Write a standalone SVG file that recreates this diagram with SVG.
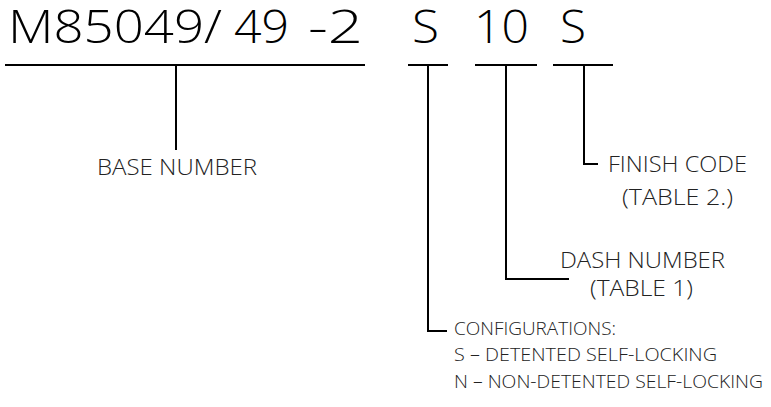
<svg xmlns="http://www.w3.org/2000/svg" width="771" height="407" viewBox="0 0 771 407">
<style>
.big{font-family:"Open Sans","Liberation Sans",sans-serif;font-weight:300;font-size:46px;fill:#000}
.lbl{font-family:"Open Sans","Liberation Sans",sans-serif;font-weight:300;font-size:22px;fill:#222}
.sm{font-family:"Open Sans","Liberation Sans",sans-serif;font-weight:300;font-size:18px;fill:#222}
.ln{stroke:#000;stroke-width:2;fill:none}
</style>
<rect width="771" height="407" fill="#fff"/>
<g id="code">
<text class="big" x="8" y="43" textLength="214" lengthAdjust="spacingAndGlyphs">M85049/</text>
<text class="big" x="234" y="43" textLength="55" lengthAdjust="spacingAndGlyphs">49</text>
<text class="big" x="308" y="43" textLength="55" lengthAdjust="spacingAndGlyphs">-2</text>
<text class="big" x="412" y="43" textLength="27" lengthAdjust="spacingAndGlyphs">S</text>
<text class="big" x="474" y="43" textLength="55" lengthAdjust="spacingAndGlyphs">10</text>
<text class="big" x="560" y="43" textLength="26" lengthAdjust="spacingAndGlyphs">S</text>
</g>
<g id="connectors">
<path class="ln" d="M5 65H365M176 65V150"/>
<path class="ln" d="M408 65H448M428 65V331H447"/>
<path class="ln" d="M475 65H537M506 65V279H569"/>
<path class="ln" d="M553 65H613M584 65V164H598"/>
</g>
<g id="base">
<text class="lbl" x="97" y="175" textLength="160" lengthAdjust="spacingAndGlyphs">BASE NUMBER</text>
</g>
<g id="finish">
<text class="lbl" x="608" y="172" textLength="139" lengthAdjust="spacingAndGlyphs">FINISH CODE</text>
<text class="lbl" x="622" y="205" textLength="111" lengthAdjust="spacingAndGlyphs">(TABLE 2.)</text>
</g>
<g id="dash">
<text class="lbl" x="560" y="268" textLength="165" lengthAdjust="spacingAndGlyphs">DASH NUMBER</text>
<text class="lbl" x="590" y="296" textLength="103" lengthAdjust="spacingAndGlyphs">(TABLE 1)</text>
</g>
<g id="config">
<text class="sm" x="454" y="335" textLength="162" lengthAdjust="spacingAndGlyphs">CONFIGURATIONS:</text>
<text class="sm" x="454" y="361" textLength="263" lengthAdjust="spacingAndGlyphs">S – DETENTED SELF-LOCKING</text>
<text class="sm" x="454" y="388" textLength="309" lengthAdjust="spacingAndGlyphs">N – NON-DETENTED SELF-LOCKING</text>
</g>
</svg>
